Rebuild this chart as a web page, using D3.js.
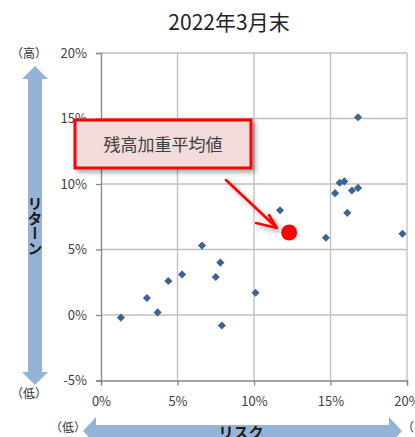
<!DOCTYPE html>
<html>
<head>
<meta charset="utf-8">
<script src="https://cdn.jsdelivr.net/npm/d3@7/dist/d3.min.js"></script>
<style>
  html, body { margin: 0; padding: 0; background: #fff; }
  svg { display: block; font-family: "Noto Sans CJK JP", "Noto Sans", sans-serif; }
</style>
</head>
<body>
<svg id="chart" width="415" height="437"></svg>
<script>
// Fund risk (x, %) and return (y, %) as of end of March 2022
const risk   = [1.3, 3.0, 3.7, 4.4, 5.3, 6.6, 7.5, 7.8, 7.9, 10.1, 11.7, 14.7, 15.3, 15.6, 15.9, 16.1, 16.4, 16.8, 16.8, 19.7];
const ret    = [-0.2, 1.3, 0.2, 2.6, 3.1, 5.3, 2.9, 4.0, -0.8, 1.7, 8.0, 5.9, 9.3, 10.1, 10.2, 7.8, 9.5, 9.7, 15.1, 6.2];
// Balance-weighted average
const avgRisk = [12.3];
const avgRet  = [6.3];

const xTicks = [0, 5, 10, 15, 20];
const yTicks = [-5, 0, 5, 10, 15, 20];
const title = "2022年3月末";
const calloutText = "残高加重平均値";

const svg = d3.select("#chart");

const x = d3.scaleLinear().domain([0, 20]).range([101, 407]);
const y = d3.scaleLinear().domain([-5, 20]).range([380.5, 53]);

const defs = svg.append("defs");
const shadow = defs.append("filter").attr("id", "shadow")
  .attr("x", "-20%").attr("y", "-20%").attr("width", "150%").attr("height", "160%");
shadow.append("feDropShadow").attr("dx", 3).attr("dy", 3).attr("stdDeviation", 2.5)
  .attr("flood-color", "#000").attr("flood-opacity", 0.35);

// Title
svg.append("text").attr("x", 229).attr("y", 30).attr("text-anchor", "middle")
  .attr("font-size", 21).attr("fill", "#222").text(title);

// Gridlines
svg.append("g").selectAll("line.gx").data(xTicks.slice(1)).join("line")
  .attr("x1", d => x(d)).attr("x2", d => x(d)).attr("y1", y(20)).attr("y2", y(-5))
  .attr("stroke", "#BFBFBF").attr("stroke-width", 1.3);
svg.append("g").selectAll("line.gy").data(yTicks.filter(d => d !== -5)).join("line")
  .attr("x1", x(0)).attr("x2", x(20)).attr("y1", d => y(d)).attr("y2", d => y(d))
  .attr("stroke", "#BFBFBF").attr("stroke-width", 1.3);

// Axes
const yAxis = svg.append("g").attr("transform", `translate(${x(0)},0)`)
  .call(d3.axisLeft(y).tickValues(yTicks).tickSize(5).tickFormat(d => d + "%"));
const xAxis = svg.append("g").attr("transform", `translate(0,${y(-5)})`)
  .call(d3.axisBottom(x).tickValues(xTicks).tickSize(5).tickFormat(d => d + "%"));
[yAxis, xAxis].forEach(g => {
  g.select(".domain").attr("stroke", "#868686").attr("stroke-width", 1.3);
  g.selectAll(".tick line").attr("stroke", "#868686").attr("stroke-width", 1.3);
  g.selectAll(".tick text").attr("fill", "#404040").attr("font-size", 13)
    .attr("font-family", "'Noto Sans CJK JP', sans-serif");
});
yAxis.selectAll(".tick text").attr("x", -14);
xAxis.selectAll(".tick text").attr("y", 16);

// Fund points (diamonds)
const diamond = d3.symbol().type(d3.symbolDiamond2).size(42);
svg.append("g").selectAll("path").data(risk.map((r, i) => [r, ret[i]])).join("path")
  .attr("d", diamond)
  .attr("transform", d => `translate(${x(d[0])},${y(d[1])})`)
  .attr("fill", "#3A6496");

// Weighted average point
svg.append("g").selectAll("circle").data(avgRisk.map((r, i) => [r, avgRet[i]])).join("circle")
  .attr("cx", d => x(d[0])).attr("cy", d => y(d[1])).attr("r", 8)
  .attr("fill", "#FF0000");

// Callout arrow
const arrow = svg.append("g").attr("filter", "url(#shadow)")
  .attr("stroke", "#FF0000").attr("stroke-width", 2.5).attr("fill", "none")
  .attr("stroke-linecap", "round").attr("stroke-linejoin", "round");
arrow.append("line").attr("x1", 226).attr("y1", 180).attr("x2", 276).attr("y2", 227);
arrow.append("polyline").attr("points", "256,223 277,228 269,215");

// Callout box
svg.append("rect").attr("x", 75).attr("y", 120).attr("width", 176).attr("height", 48)
  .attr("fill", "#F2DCDB").attr("stroke", "#FF0000").attr("stroke-width", 3)
  .attr("filter", "url(#shadow)");
svg.append("text").attr("x", 163).attr("y", 151).attr("text-anchor", "middle")
  .attr("font-size", 17).attr("fill", "#404040").text(calloutText);

// Return direction arrow (vertical)
const arrowFill = "#95B3D7";
svg.append("path")
  .attr("d", "M35,66 L48,79 L42,79 L42,372 L48,372 L35,385 L22,372 L28,372 L28,79 L22,79 Z")
  .attr("fill", arrowFill);
svg.append("text").attr("x", 35).attr("y", 196)
  .attr("writing-mode", "vertical-rl").style("writing-mode", "vertical-rl")
  .attr("font-size", 15).attr("font-weight", "bold").attr("fill", "#1a1a1a")
  .attr("letter-spacing", 0).text("リターン");
svg.append("text").attr("x", 29).attr("y", 58).attr("text-anchor", "middle")
  .attr("font-size", 12).attr("fill", "#333").text("（高）");
svg.append("text").attr("x", 29).attr("y", 398).attr("text-anchor", "middle")
  .attr("font-size", 12).attr("fill", "#333").text("（低）");

// Risk direction arrow (horizontal)
svg.append("path")
  .attr("d", "M83,431 L96,417 L96,425 L389,425 L389,417 L402,431 L389,445 L389,437 L96,437 L96,445 Z")
  .attr("fill", arrowFill);
svg.append("text").attr("x", 241).attr("y", 438).attr("text-anchor", "middle")
  .attr("font-size", 15).attr("font-weight", "bold").attr("fill", "#1a1a1a").text("リスク");
svg.append("text").attr("x", 68).attr("y", 432).attr("text-anchor", "middle")
  .attr("font-size", 12).attr("fill", "#333").text("（低）");
svg.append("text").attr("x", 402).attr("y", 432).attr("text-anchor", "start")
  .attr("font-size", 12).attr("fill", "#333").text("（高）");
</script>
</body>
</html>
